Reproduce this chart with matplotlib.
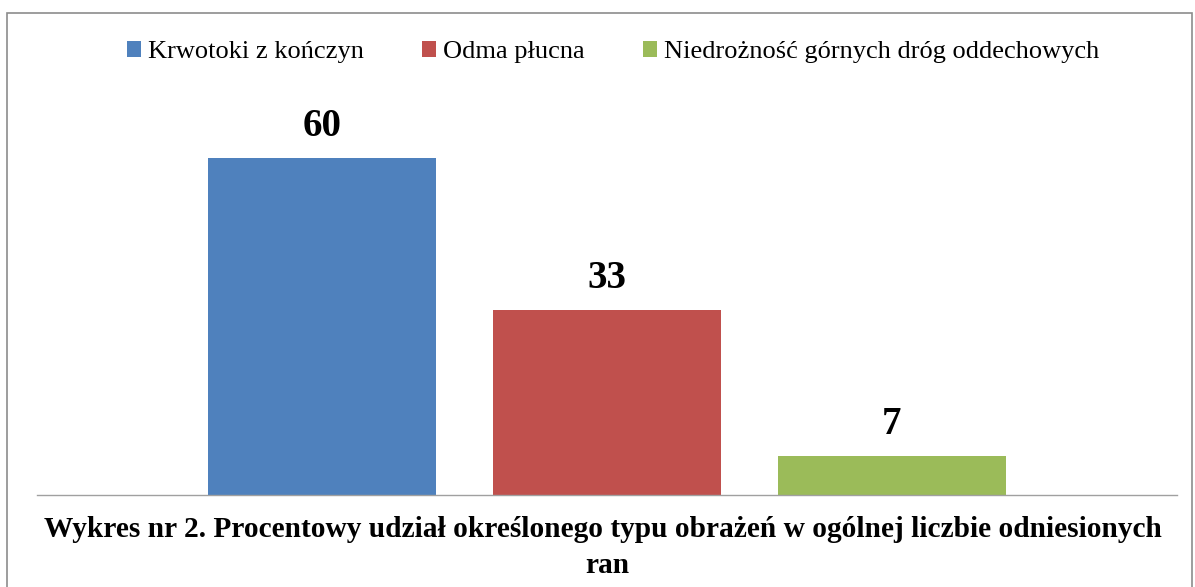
import matplotlib.pyplot as plt
from matplotlib.patches import Patch, Rectangle

# data
categories = ["Krwotoki z kończyn", "Odma płucna", "Niedrożność górnych dróg oddechowych"]
values = [60, 33, 7]
colors = ["#4F81BD", "#C0504D", "#9BBB59"]
title_lines = ["Wykres nr 2. Procentowy udział określonego typu obrażeń w ogólnej liczbie odniesionych",
               "ran"]

plt.rcParams["font.family"] = ["Liberation Serif", "DejaVu Serif"]

fig = plt.figure(figsize=(11.95, 5.87), dpi=100)
W, H = 1195, 587

# outer frame
fig.patches.append(Rectangle((7 / W, -0.05), (1192 - 7) / W, 1.05 - 13 / H,
                             transform=fig.transFigure, fill=False,
                             edgecolor="#8c8c8c", linewidth=1.2))

ax = fig.add_axes([37 / W, (H - 495) / H, 1140 / W, 393.4 / H])
x = range(len(values))
ax.bar(x, values, width=0.8, color=colors)
ax.set_xlim(-1, 3)
ax.set_ylim(0, 70)

for xi, v in zip(x, values):
    ax.annotate(str(v), (xi, v), xytext=(0, 15.6), textcoords="offset points",
                ha="center", va="baseline", fontsize=28, fontweight="bold")

for s in ["top", "left", "right"]:
    ax.spines[s].set_visible(False)
ax.spines["bottom"].set_color("#a0a0a0")
ax.spines["bottom"].set_linewidth(1.0)
ax.set_xticks([])
ax.set_yticks([])
ax.patch.set_alpha(0)

handles = [Patch(facecolor=c, edgecolor="none") for c in colors]
fig.legend(handles, categories, loc="center", bbox_to_anchor=(613 / W, 1 - 52 / H),
           ncol=3, frameon=False, fontsize=19, handlelength=0.55, handleheight=0.55,
           handletextpad=0.25, columnspacing=2.2, borderpad=0)

fig.text(603 / W, 1 - 537 / H, title_lines[0], ha="center", va="baseline",
         fontsize=21.2, fontweight="bold")
fig.text(607 / W, 1 - 573 / H, title_lines[1], ha="center", va="baseline",
         fontsize=21.2, fontweight="bold")

fig.savefig("out.png", dpi=100)
